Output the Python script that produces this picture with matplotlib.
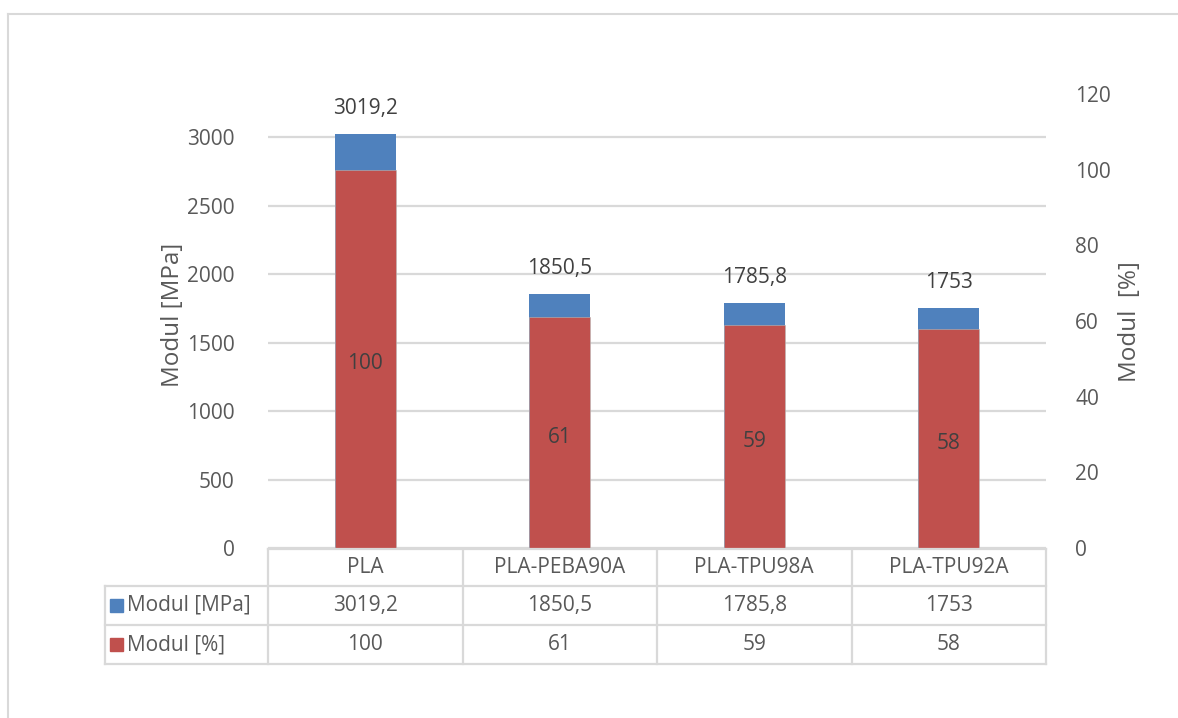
import matplotlib
matplotlib.use("Agg")
import matplotlib.pyplot as plt
from matplotlib.lines import Line2D
from matplotlib.patches import Rectangle
import numpy as np

categories = ["PLA", "PLA-PEBA90A", "PLA-TPU98A", "PLA-TPU92A"]
modul_mpa = [3019.2, 1850.5, 1785.8, 1753]
modul_pct = [100, 61, 59, 58]
series_names = ["Modul [MPa]", "Modul [%]"]
left_ticks = [0, 500, 1000, 1500, 2000, 2500, 3000]
right_ticks = [0, 20, 40, 60, 80, 100, 120]

BLUE = "#4F81BD"
RED = "#C0504D"
TXT = "#595959"
LBL = "#404040"
GRID = "#D9D9D9"
FS = 15

plt.rcParams['font.family'] = ['Open Sans', 'DejaVu Sans']


def fmt(v):
    if float(v).is_integer():
        return str(int(v))
    return ("%g" % v).replace(".", ",")


W, H = 1178, 718
fig = plt.figure(figsize=(W / 100, H / 100), dpi=100)

# plot area in pixels
px0, px1 = 268, 1046
py0, py1 = 548, 94
ax = fig.add_axes([px0 / W, 1 - py0 / H, (px1 - px0) / W, (py0 - py1) / H])
ax2 = ax.twinx()

x = np.arange(len(categories))
bw = 0.315
ax.bar(x, modul_mpa, width=bw, color=BLUE, zorder=2)
ax2.bar(x, modul_pct, width=bw, color=RED, zorder=2, edgecolor="#B8B8B8", linewidth=0.4)

ax.set_xlim(-0.5, len(categories) - 0.5)
ax.set_ylim(0, 3000 * (py0 - py1) / 411)
ax2.set_ylim(0, 120)
ax.set_yticks(left_ticks)
ax.set_yticklabels([fmt(t) for t in left_ticks])
ax2.set_yticks(right_ticks)
ax2.set_yticklabels([fmt(t) for t in right_ticks])
ax.set_xticks([])
for a in (ax, ax2):
    for s in a.spines.values():
        s.set_visible(False)
    a.tick_params(axis="y", length=0, labelsize=FS, colors=TXT)
    a.patch.set_visible(False)
ax.tick_params(axis="y", pad=24)
ax2.tick_params(axis="y", pad=21)
ax.yaxis.grid(True, color=GRID, linewidth=1.6, zorder=0)
ax.set_axisbelow(True)

ax.set_ylabel(series_names[0], fontsize=17.5, color=TXT, va="center")
ax.yaxis.set_label_coords((173 - px0) / (px1 - px0), (py0 - 314.5) / (py0 - py1))
ax2.set_ylabel("Modul  [%]", fontsize=17.5, color=TXT, va="center")
ax2.yaxis.set_label_coords((1130 - px0) / (px1 - px0), (py0 - 322) / (py0 - py1))

for xi, v in zip(x, modul_mpa):
    ax.annotate(fmt(v), (xi, v), xytext=(0, 11), textcoords="offset points",
                ha="center", va="bottom", fontsize=FS, color=LBL)
for xi, v in zip(x, modul_pct):
    ax2.annotate(fmt(v), (xi, v / 2), xytext=(0, -3.5), textcoords="offset points",
                 ha="center", va="center", fontsize=FS, color=LBL, zorder=3)

# overlay in pixel coordinates for table and frame
ov = fig.add_axes([0, 0, 1, 1])
ov.set_xlim(0, W)
ov.set_ylim(H, 0)
ov.axis("off")
ov.patch.set_visible(False)

# chart outer frame
ov.add_line(Line2D([8, 8], [14, H], color=GRID, lw=1.5))
ov.add_line(Line2D([8, W], [14, 14], color=GRID, lw=1.5))

n = len(categories)
colw = (px1 - px0) / n
rows = [549, 586, 625, 664]
lc = "#D9D9D9"
lw = 1.6
ov.add_line(Line2D([px0, px1], [rows[0], rows[0]], color=lc, lw=lw))
for ry in rows[1:]:
    ov.add_line(Line2D([105, px1], [ry, ry], color=lc, lw=lw))
ov.add_line(Line2D([105, 105], [rows[1], rows[3]], color=lc, lw=lw))
for i in range(n + 1):
    vx = px0 + i * colw
    ov.add_line(Line2D([vx, vx], [rows[0], rows[3]], color=lc, lw=lw))

for i, c in enumerate(categories):
    cx = px0 + (i + 0.5) * colw
    ov.text(cx, (rows[0] + rows[1]) / 2, c, ha="center", va="center", fontsize=FS, color=TXT)
    ov.text(cx, (rows[1] + rows[2]) / 2, fmt(modul_mpa[i]), ha="center", va="center", fontsize=FS, color=TXT)
    ov.text(cx, (rows[2] + rows[3]) / 2, fmt(modul_pct[i]), ha="center", va="center", fontsize=FS, color=TXT)

for r, (name, col) in enumerate(zip(series_names, [BLUE, RED])):
    cy = (rows[r + 1] + rows[r + 2]) / 2
    ov.add_patch(Rectangle((110, cy - 6.5), 13, 13, color=col))
    ov.text(127, cy, name, ha="left", va="center", fontsize=FS, color=TXT)

fig.savefig("out.png", dpi=100)
